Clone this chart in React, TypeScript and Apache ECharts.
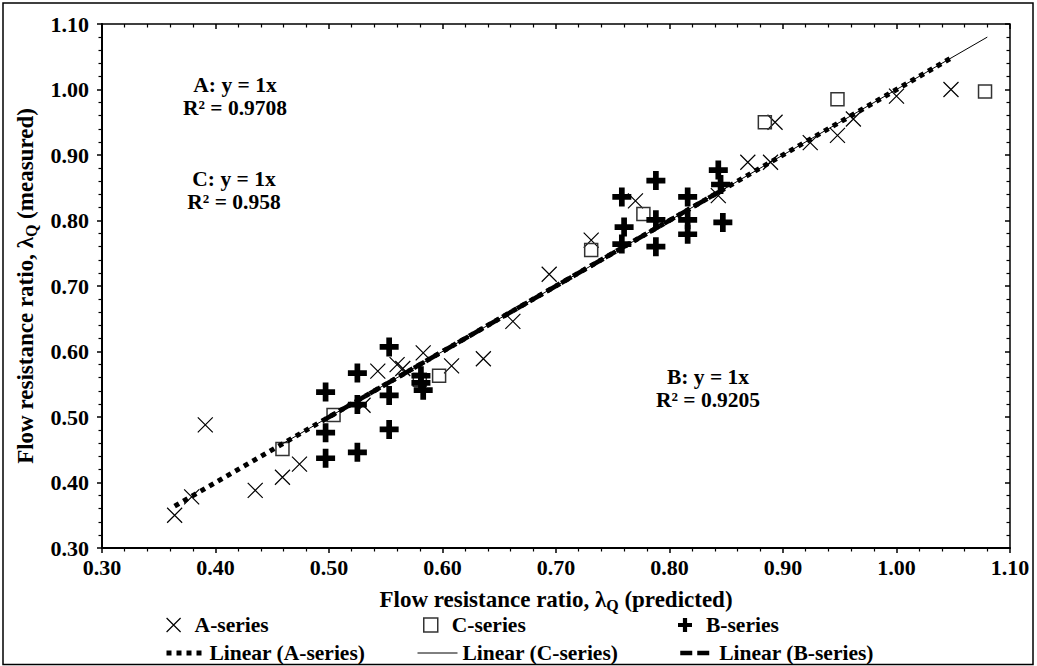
import React, { useEffect, useRef } from 'react';
import * as echarts from 'echarts';

const FONT = '"Liberation Serif", "Times New Roman", serif';

// Axis ranges / ticks
const AXIS_MIN = 0.3;
const AXIS_MAX = 1.1;
const AXIS_STEP = 0.1;

// Series names
const SERIES_NAMES = ['A-series', 'C-series', 'B-series'];
const TREND_NAMES = ['Linear (A-series)', 'Linear (C-series)', 'Linear (B-series)'];

// A-series (predicted, measured)
const aSeries: [number, number][] = [
  [0.364, 0.350], [0.379, 0.378], [0.391, 0.488], [0.435, 0.388], [0.459, 0.408],
  [0.474, 0.428], [0.530, 0.518], [0.543, 0.570], [0.560, 0.580], [0.565, 0.574],
  [0.583, 0.598], [0.608, 0.578], [0.636, 0.589], [0.662, 0.646], [0.694, 0.718],
  [0.731, 0.770], [0.770, 0.830], [0.843, 0.838], [0.869, 0.889], [0.889, 0.889],
  [0.893, 0.950], [0.924, 0.919], [0.948, 0.930], [0.962, 0.955], [1.000, 0.990],
  [1.048, 1.000],
];

// C-series
const cSeries: [number, number][] = [
  [0.459, 0.451], [0.504, 0.503], [0.580, 0.557], [0.597, 0.563], [0.731, 0.755],
  [0.777, 0.810], [0.884, 0.950], [0.948, 0.985], [1.078, 0.997],
];

// B-series
const bSeries: [number, number][] = [
  [0.497, 0.538], [0.497, 0.476], [0.497, 0.437], [0.525, 0.567], [0.525, 0.519],
  [0.525, 0.446], [0.553, 0.607], [0.553, 0.533], [0.553, 0.481], [0.581, 0.563],
  [0.581, 0.552], [0.583, 0.541],
  [0.758, 0.836], [0.760, 0.790], [0.758, 0.764], [0.788, 0.861], [0.788, 0.801],
  [0.788, 0.760], [0.816, 0.836], [0.816, 0.801], [0.816, 0.779], [0.843, 0.877],
  [0.845, 0.855], [0.847, 0.797],
];

// Trendlines: slope and x-range (y = slope * x)
const trendSlopes = [1, 1, 1];
const trendXRanges: [number, number][] = [
  [0.364, 1.048],
  [0.459, 1.08],
  [0.497, 0.847],
];

// Annotation texts
const annotations = [
  'A: y = 1x\nR² = 0.9708',
  'C: y = 1x\nR² = 0.958',
  'B: y = 1x\nR² = 0.9205',
];

const CROSS = 'path://M0,0L10,10M10,0L0,10';
const SQUARE = 'path://M0,0L10,0L10,10L0,10Z';
const PLUS = 'path://M3.5,0L6.5,0L6.5,3.5L10,3.5L10,6.5L6.5,6.5L6.5,10L3.5,10L3.5,6.5L0,6.5L0,3.5L3.5,3.5Z';

const trendLine = (i: number): [number, number][] =>
  trendXRanges[i].map((x) => [x, trendSlopes[i] * x] as [number, number]);

const boldText = { fontFamily: FONT, fontWeight: 'bold' as const, color: '#000' };

const nameRich = {
  a: { ...boldText, fontSize: 23 },
  s: { ...boldText, fontSize: 16, padding: [12, 0, 0, 0] },
};

const makeAxis = (isX: boolean, inner: boolean) => ({
  type: 'value',
  min: AXIS_MIN,
  max: AXIS_MAX,
  interval: AXIS_STEP,
  splitLine: { show: false },
  axisLine: { show: !inner, onZero: false, lineStyle: { color: '#000', width: 2 } },
  axisTick: { show: true, inside: inner, length: 5, lineStyle: { color: '#000', width: 1.5 } },
  minorTick: { show: true, splitNumber: 5, length: 3.5, lineStyle: { color: '#000', width: 1.2 } },
  axisLabel: inner
    ? { show: false }
    : {
        show: true,
        ...boldText,
        fontSize: 22,
        margin: isX ? 8 : 13,
        formatter: (v: number) => v.toFixed(2),
      },
  ...(inner
    ? {}
    : {
        name: isX
          ? '{a|Flow resistance ratio, λ}{s|Q}{a| (predicted)}'
          : '{a|Flow resistance ratio, λ}{s|Q}{a| (measured)}',
        nameLocation: 'middle',
        nameGap: isX ? 37 : 54,
        nameRotate: isX ? 0 : 90,
        nameTextStyle: { ...boldText, fontSize: 23, rich: nameRich },
      }),
});

const legendText = { ...boldText, fontSize: 21.5 };

const legendBox = (item: any, left: number, top: number, w: number) => ({
  data: [item],
  left,
  top,
  itemWidth: w,
  itemHeight: 14,
  padding: 0,
  selectedMode: false,
  symbolKeepAspect: true,
  textStyle: legendText,
});

const dotted = { color: '#000', width: 5, type: [5, 5], cap: 'butt' };
const thin = { color: '#000', width: 1, type: 'solid' };
const dashed = { color: '#000', width: 4.5, type: [12, 5], cap: 'butt' };
const noSymbol = { color: 'rgba(0,0,0,0)', borderColor: 'rgba(0,0,0,0)', borderWidth: 0 };

export default function App() {
  const ref = useRef<HTMLDivElement>(null);
  useEffect(() => {
    const chart = echarts.init(ref.current!, null, { renderer: 'svg' });
    const option: any = {
      animation: false,
      backgroundColor: '#fff',
      grid: {
        left: 102,
        right: 27,
        top: 24,
        bottom: 118,
        show: true,
        borderColor: '#000',
        borderWidth: 1.5,
        containLabel: false,
      },
      xAxis: [makeAxis(true, false), makeAxis(true, true)],
      yAxis: [makeAxis(false, false), makeAxis(false, true)],
      legend: [
        legendBox({ name: SERIES_NAMES[0], itemStyle: { color: 'rgba(0,0,0,0)', borderColor: '#000', borderWidth: 1.2, opacity: 1 } }, 166, 614, 32),
        legendBox({ name: SERIES_NAMES[1], itemStyle: { color: 'rgba(0,0,0,0)', borderColor: '#333', borderWidth: 1.5, opacity: 1 } }, 423, 614, 32),
        legendBox({ name: SERIES_NAMES[2], itemStyle: { color: '#000', borderWidth: 0, opacity: 1 } }, 678, 614, 32),
        legendBox({ name: TREND_NAMES[0], lineStyle: dotted, itemStyle: noSymbol }, 164, 642, 38),
        legendBox({ name: TREND_NAMES[1], lineStyle: thin, itemStyle: noSymbol }, 417, 642, 40),
        legendBox({ name: TREND_NAMES[2], lineStyle: dashed, itemStyle: noSymbol }, 678, 642, 34),
      ],
      series: [
        {
          name: SERIES_NAMES[0],
          type: 'scatter',
          data: aSeries,
          symbol: CROSS,
          symbolSize: 15,
          itemStyle: { color: 'rgba(0,0,0,0)', borderColor: '#000', borderWidth: 1.2, opacity: 1 },
        },
        {
          name: SERIES_NAMES[1],
          type: 'scatter',
          data: cSeries,
          symbol: SQUARE,
          symbolSize: 13,
          itemStyle: { color: 'rgba(0,0,0,0)', borderColor: '#333', borderWidth: 1.5, opacity: 1 },
        },
        {
          name: SERIES_NAMES[2],
          type: 'scatter',
          data: bSeries,
          symbol: PLUS,
          symbolSize: 19,
          itemStyle: { color: '#000', borderWidth: 0, opacity: 1 },
        },
        {
          name: TREND_NAMES[0],
          type: 'line',
          data: trendLine(0),
          symbol: 'none',
          lineStyle: dotted,
          z: 3,
        },
        {
          name: TREND_NAMES[1],
          type: 'line',
          data: trendLine(1),
          symbol: 'none',
          lineStyle: thin,
          z: 3,
        },
        {
          name: TREND_NAMES[2],
          type: 'line',
          data: trendLine(2),
          symbol: 'none',
          lineStyle: dashed,
          z: 4,
        },
      ],
      graphic: [
        {
          type: 'rect',
          shape: { x: 3, y: 3, width: 1030, height: 661.5 },
          style: { fill: 'none', stroke: '#000', lineWidth: 1.5 },
          silent: true,
        },
        ...annotations.map((t, i) => ({
          type: 'text',
          x: [235, 234, 708][i],
          y: [73, 167, 365][i],
          style: {
            text: t,
            fontFamily: FONT,
            fontWeight: 'bold',
            fontSize: 21.5,
            lineHeight: 23,
            fill: '#000',
            align: 'center',
            verticalAlign: 'top',
          },
          silent: true,
        })),
      ],
    };
    chart.setOption(option);
    return () => chart.dispose();
  }, []);
  return (
    <div
      ref={ref}
      style={{ position: 'fixed', left: 0, top: 0, width: 1037, height: 666, background: '#fff' }}
    />
  );
}
